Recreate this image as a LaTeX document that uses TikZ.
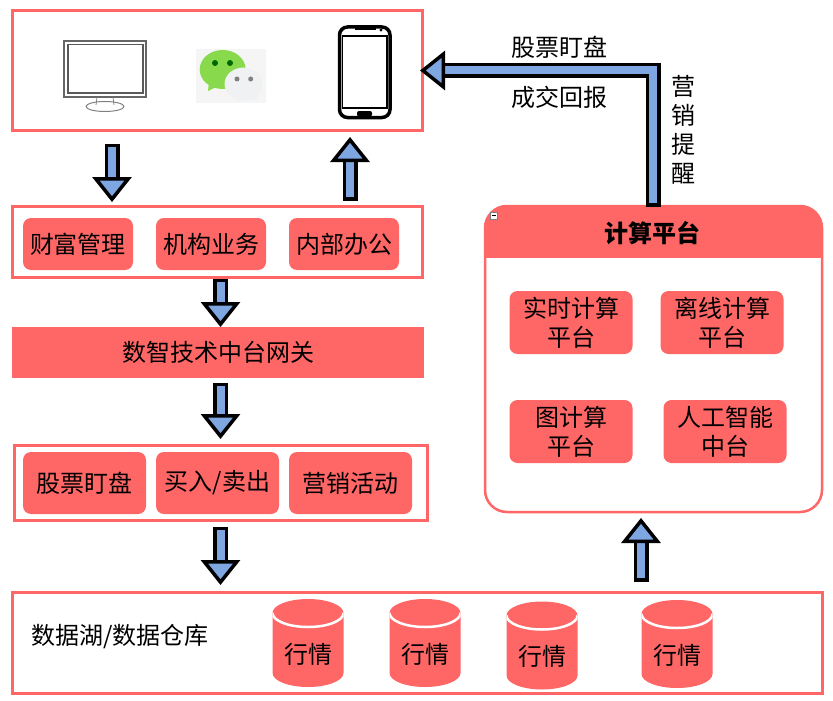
\documentclass[tikz,border=0pt]{standalone}
\usepackage{fontspec}
\setmainfont{Noto Sans CJK SC}
\usetikzlibrary{shapes.geometric, arrows.meta, positioning}
\definecolor{redbox}{HTML}{FF6666}
\definecolor{bluearrow}{HTML}{7EA6E0}
\definecolor{chatgreen}{HTML}{88D94C}
\definecolor{chatwhite}{HTML}{EFF1F2}
\newcommand{\dbtext}[1]{\smash{\raisebox{-20pt}{#1}}}
\begin{document}
\begin{tikzpicture}[
    x=1pt, y=-1pt,
    font=\fontsize{24}{29}\selectfont,
    panel/.style={draw=redbox, line width=3pt, inner sep=0pt, outer sep=0pt},
    box/.style={fill=redbox, rounded corners=8pt, inner sep=0pt, outer sep=0pt, minimum height=#1, align=center},
    box/.default=52pt,
    wide/.style={minimum width=#1},
    dbcyl/.style={minimum width=71pt, minimum height=88pt, inner sep=0pt, outer sep=0pt,
        path picture={
            \fill[redbox] ([yshift=-14pt]path picture bounding box.north west) arc[start angle=180, end angle=0, x radius=35.5pt, y radius=14pt]
                -- ([yshift=14pt]path picture bounding box.south east) arc[start angle=360, end angle=180, x radius=35.5pt, y radius=14pt] -- cycle;
            \draw[white, line width=2.5pt] ([yshift=-14pt]path picture bounding box.north west) arc[start angle=180, end angle=360, x radius=35.5pt, y radius=14pt];}},
    blockarrow/.style={draw=black, line width=3.5pt, double=bluearrow, double distance=8pt, line cap=rect, miter limit=10,
        -{Triangle[length=25pt, width=39pt, fill=bluearrow, color=black, line width=3.5pt]}}
]
    \useasboundingbox (0,0) rectangle (833,701);

    % columns of the block arrows
    \coordinate (colA) at (112,0);
    \coordinate (colB) at (350,0);
    \coordinate (colC) at (220.5,0);
    \coordinate (colD) at (641,0);
    \coordinate (colE) at (653,0);

    % client row
    \node[panel, minimum width=410pt, minimum height=119pt] (clients) at (217,70.5) {};
    % monitor
    \draw[gray!80!black, line width=1.2pt] (64,41) rectangle (146,97);
    \draw[gray!70!black, line width=1.4pt] (68,44.5) rectangle (143,93);
    \draw[gray, line width=0.8pt] (97,97) -- (96,105) (113,97) -- (114,105);
    \draw[gray, line width=1pt] (105,106.5) ellipse[x radius=19pt, y radius=5pt];
    % chat icon
    \fill[gray!8] (196,49) rectangle (266,103);
    \fill[chatgreen] (208,91) -- (209,82) -- (216,87) -- cycle;
    \fill[chatgreen] (222.7,69.5) ellipse[x radius=23pt, y radius=19.5pt];
    \fill[green!40!black] (215,63) circle[radius=3pt] (230,63) circle[radius=3pt];
    \fill[chatwhite] (257,101) -- (248,96) -- (258,92) -- cycle;
    \fill[chatwhite] (243.5,84) ellipse[x radius=19pt, y radius=16.5pt];
    \fill[gray] (237,79) circle[radius=2.5pt] (250.7,79) circle[radius=2.5pt];
    % phone
    \draw[black, line width=3.5pt, rounded corners=8pt] (339.5,27) rectangle (390,117.5);
    \draw[black, line width=1.8pt] (342.5,36) rectangle (387,108);
    \draw[black, line width=2pt] (355,29.5) -- (376,29.5);
    \fill[black] (381,30) circle[radius=1.6pt];
    \fill[black, rounded corners=2pt] (357,111) rectangle (372,116.5);

    % business row
    \node[panel, minimum width=410pt, minimum height=71pt] (business) at (217,241.5) {};
    \node[box, wide=110pt] (wealth) at (78,244) {财富管理};
    \node[box, wide=110pt, right=23pt of wealth] (inst) {机构业务};
    \node[box, wide=110pt, right=23pt of inst] (office) {内部办公};

    % gateway
    \node[fill=redbox, minimum width=412pt, minimum height=51pt, inner sep=0pt, outer sep=0pt] (gateway) at (218,352.5) {数智技术中台网关};

    % application row
    \node[panel, minimum width=413pt, minimum height=75pt] (apps) at (220.5,482.5) {};
    \node[box=62pt, wide=123pt] (watch) at (84.5,483) {股票盯盘};
    \node[box=62pt, wide=123pt, right=10pt of watch] (trade) {买入/卖出};
    \node[box=62pt, wide=123pt, right=10pt of trade] (campaign) {营销活动};

    % data lake row
    \node[panel, minimum width=810pt, minimum height=101pt] (lake) at (417,642.5) {};
    \node (laketext) at (120,637) {数据湖/数据仓库};
    \node[dbcyl] (dbA) at (308,643) {\dbtext{行情}};
    \node[dbcyl] (dbB) at (425,643) {\dbtext{行情}};
    \node[dbcyl] (dbC) at (542,645.5) {\dbtext{行情}};
    \node[dbcyl] (dbD) at (677,644) {\dbtext{行情}};

    % compute platform
    \node[draw=redbox, line width=2.5pt, fill=white, rounded corners=22pt, minimum width=337pt, minimum height=306pt, inner sep=0pt, outer sep=0pt,
        path picture={\fill[redbox, sharp corners] (path picture bounding box.north west) rectangle ([yshift=-52pt]path picture bounding box.north east);}] (calc) at (653.5,359) {};
    \node[font=\fontsize{24}{29}\selectfont\bfseries] (calctitle) at (652,233) {计算平台};
    \node[draw=gray, line width=0.6pt, fill=white, minimum size=7pt, inner sep=0pt] (fold) at (494,215.5) {};
    \draw[black, line width=1pt] ([xshift=1.5pt]fold.west) -- ([xshift=-1.5pt]fold.east);
    \node[box=63pt, wide=123pt] (realtime) at (571,322.5) {实时计算\\平台};
    \node[box=63pt, wide=123pt] (offline) at (722,322.5) {离线计算\\平台};
    \node[box=63pt, wide=123pt] (graphcalc) at (571,431.5) {图计算\\平台};
    \node[box=63pt, wide=123pt] (aicenter) at (725,431.5) {人工智能\\中台};

    % arrows
    \draw[blockarrow, shorten <=21pt, shorten >=4pt] (clients.south -| colA) -- (business.north -| colA);
    \draw[blockarrow, shorten <=13pt, shorten >=7pt] (business.north -| colB) -- (clients.south -| colB);
    \draw[blockarrow, shorten <=9pt, shorten >=0pt] (business.south -| colC) -- (gateway.north -| colC);
    \draw[blockarrow, shorten <=12pt, shorten >=6pt] (gateway.south -| colC) -- (apps.north -| colC);
    \draw[blockarrow, shorten <=14pt, shorten >=7pt] (apps.south -| colC) -- (lake.north -| colC);
    \draw[blockarrow, shorten <=18pt, shorten >=6pt] (lake.north -| colD) -- (calc.south -| colD);
    \draw[blockarrow, shorten <=7pt, shorten >=-2pt] (calc.north -| colE) |- (clients.east);

    % arrow labels
    \node (watchtext) at (559,47) {股票盯盘};
    \node (reporttext) at (559,97) {成交回报};
    \node[align=center] (alerttext) at (683,130) {营\\销\\提\\醒};
\end{tikzpicture}
\end{document}
